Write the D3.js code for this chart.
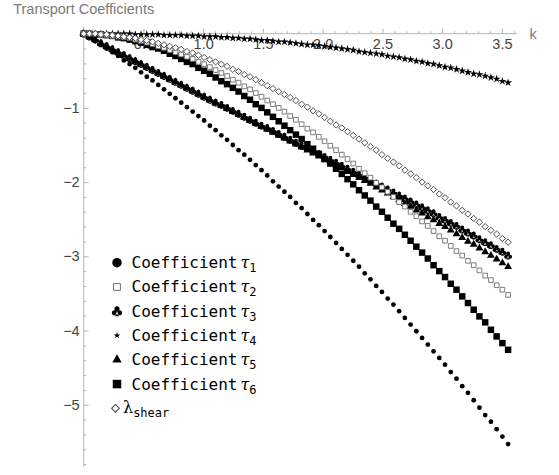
<!DOCTYPE html>
<html><head><meta charset="utf-8">
<script src="https://cdn.jsdelivr.net/npm/d3@7"></script>
<style>body{margin:0;background:#fff}svg{display:block}</style>
</head><body>
<svg id="chart" width="559" height="475"></svg>
<script>
const k = [0,0.048,0.096,0.144,0.192,0.24,0.288,0.336,0.384,0.432,0.48,0.528,0.576,0.624,0.672,0.72,0.768,0.816,0.864,0.912,0.96,1.008,1.056,1.104,1.152,1.2,1.248,1.296,1.344,1.392,1.44,1.488,1.536,1.584,1.632,1.68,1.728,1.776,1.824,1.872,1.92,1.968,2.016,2.064,2.112,2.16,2.208,2.256,2.304,2.352,2.4,2.448,2.496,2.544,2.592,2.64,2.688,2.736,2.784,2.832,2.88,2.928,2.976,3.024,3.072,3.12,3.168,3.216,3.264,3.312,3.36,3.408,3.456,3.504,3.552];
const tau1 = [0,-0.05,-0.10,-0.15,-0.20,-0.25,-0.30,-0.36,-0.41,-0.46,-0.52,-0.58,-0.63,-0.69,-0.75,-0.81,-0.87,-0.93,-0.99,-1.05,-1.11,-1.17,-1.24,-1.30,-1.37,-1.43,-1.50,-1.57,-1.63,-1.70,-1.77,-1.84,-1.91,-1.99,-2.06,-2.13,-2.20,-2.28,-2.35,-2.43,-2.51,-2.58,-2.66,-2.74,-2.82,-2.90,-2.98,-3.06,-3.14,-3.23,-3.31,-3.40,-3.48,-3.57,-3.65,-3.74,-3.83,-3.92,-4.01,-4.10,-4.19,-4.28,-4.37,-4.46,-4.56,-4.65,-4.75,-4.84,-4.94,-5.04,-5.14,-5.23,-5.33,-5.43,-5.53];
const tau2 = [0,0,0,-0.01,-0.02,-0.03,-0.04,-0.05,-0.06,-0.08,-0.10,-0.12,-0.14,-0.17,-0.19,-0.22,-0.25,-0.28,-0.31,-0.34,-0.38,-0.41,-0.45,-0.49,-0.53,-0.57,-0.62,-0.66,-0.71,-0.75,-0.80,-0.85,-0.90,-0.95,-1.00,-1.05,-1.11,-1.16,-1.22,-1.28,-1.33,-1.39,-1.45,-1.51,-1.57,-1.63,-1.69,-1.75,-1.82,-1.88,-1.94,-2.01,-2.07,-2.13,-2.20,-2.27,-2.33,-2.40,-2.46,-2.53,-2.59,-2.66,-2.73,-2.79,-2.86,-2.93,-2.99,-3.06,-3.12,-3.19,-3.26,-3.32,-3.39,-3.45,-3.52];
const tau3 = [0,-0.04,-0.08,-0.13,-0.17,-0.21,-0.25,-0.29,-0.33,-0.37,-0.41,-0.45,-0.49,-0.53,-0.57,-0.61,-0.65,-0.69,-0.73,-0.77,-0.81,-0.85,-0.89,-0.93,-0.96,-1.00,-1.04,-1.08,-1.12,-1.16,-1.20,-1.24,-1.27,-1.31,-1.35,-1.39,-1.43,-1.47,-1.51,-1.54,-1.58,-1.62,-1.66,-1.70,-1.74,-1.78,-1.82,-1.86,-1.90,-1.94,-1.98,-2.02,-2.06,-2.10,-2.14,-2.18,-2.22,-2.26,-2.30,-2.34,-2.38,-2.42,-2.47,-2.51,-2.55,-2.59,-2.64,-2.68,-2.72,-2.77,-2.81,-2.85,-2.90,-2.94,-2.99];
const tau4 = [0,0,0,0,0,0,0,0,0,-0.01,-0.01,-0.01,-0.01,-0.01,-0.02,-0.02,-0.02,-0.02,-0.03,-0.03,-0.03,-0.04,-0.04,-0.04,-0.05,-0.05,-0.06,-0.06,-0.07,-0.07,-0.08,-0.09,-0.09,-0.10,-0.11,-0.11,-0.12,-0.13,-0.14,-0.15,-0.15,-0.16,-0.17,-0.18,-0.19,-0.20,-0.21,-0.22,-0.24,-0.25,-0.26,-0.27,-0.28,-0.30,-0.31,-0.32,-0.34,-0.35,-0.37,-0.38,-0.40,-0.41,-0.43,-0.45,-0.46,-0.48,-0.50,-0.52,-0.54,-0.55,-0.57,-0.59,-0.61,-0.64,-0.66];
const tau5 = [0,-0.04,-0.08,-0.13,-0.17,-0.21,-0.25,-0.29,-0.33,-0.37,-0.41,-0.45,-0.49,-0.53,-0.57,-0.61,-0.65,-0.69,-0.73,-0.77,-0.81,-0.85,-0.89,-0.93,-0.97,-1.01,-1.05,-1.09,-1.13,-1.17,-1.21,-1.25,-1.29,-1.33,-1.37,-1.41,-1.45,-1.49,-1.53,-1.57,-1.61,-1.65,-1.69,-1.73,-1.77,-1.81,-1.86,-1.90,-1.94,-1.98,-2.02,-2.07,-2.11,-2.15,-2.20,-2.24,-2.29,-2.33,-2.38,-2.42,-2.47,-2.51,-2.56,-2.60,-2.65,-2.70,-2.75,-2.80,-2.84,-2.89,-2.94,-2.99,-3.04,-3.09,-3.14];
const tau6 = [0,0,-0.01,-0.01,-0.02,-0.03,-0.05,-0.06,-0.08,-0.10,-0.12,-0.15,-0.18,-0.20,-0.23,-0.27,-0.30,-0.34,-0.38,-0.41,-0.46,-0.50,-0.54,-0.59,-0.64,-0.68,-0.73,-0.78,-0.84,-0.89,-0.95,-1.00,-1.06,-1.12,-1.18,-1.24,-1.30,-1.36,-1.42,-1.49,-1.55,-1.62,-1.69,-1.75,-1.82,-1.89,-1.96,-2.03,-2.11,-2.18,-2.25,-2.33,-2.40,-2.48,-2.56,-2.63,-2.71,-2.79,-2.87,-2.95,-3.03,-3.12,-3.20,-3.28,-3.37,-3.45,-3.54,-3.63,-3.72,-3.81,-3.89,-3.99,-4.08,-4.17,-4.26];
const lambdaShear = [0,0,0,-0.01,-0.01,-0.02,-0.03,-0.04,-0.05,-0.06,-0.08,-0.09,-0.11,-0.13,-0.15,-0.17,-0.19,-0.21,-0.24,-0.26,-0.29,-0.32,-0.35,-0.38,-0.41,-0.44,-0.48,-0.51,-0.55,-0.58,-0.62,-0.66,-0.70,-0.74,-0.78,-0.82,-0.86,-0.90,-0.95,-0.99,-1.04,-1.08,-1.13,-1.18,-1.23,-1.27,-1.32,-1.37,-1.42,-1.47,-1.52,-1.57,-1.63,-1.68,-1.73,-1.78,-1.84,-1.89,-1.94,-2.00,-2.05,-2.10,-2.16,-2.21,-2.27,-2.32,-2.38,-2.43,-2.49,-2.54,-2.60,-2.65,-2.70,-2.76,-2.81];

const xMajorTicks = [0.5,1.0,1.5,2.0,2.5,3.0,3.5];
const yMajorTicks = [-1,-2,-3,-4,-5];
const legendLabels = ["1","2","3","4","5","6"];
const titleText = "Transport Coefficients";
const xLabel = "k";

const svg = d3.select("#chart");
const x = d3.scaleLinear().domain([0, 3.5]).range([83.7, 501.9]);
const y = d3.scaleLinear().domain([0, -5]).range([33.7, 404.7]);

const axisColor = "#b5b5b5";
const tickTextColor = "#444";
const labelColor = "#7a7a7a";
const sansFont = "'Liberation Sans', Arial, sans-serif";

// axis lines
svg.append("line").attr("x1", x(-0.03)).attr("x2", x(3.628)).attr("y1", y(0)).attr("y2", y(0))
  .attr("stroke", axisColor).attr("stroke-width", 1);
svg.append("line").attr("x1", x(0)).attr("x2", x(0)).attr("y1", y(0.095)).attr("y2", y(-5.835))
  .attr("stroke", axisColor).attr("stroke-width", 1);

// x ticks
const xMinor = d3.range(1, 37).map(i => i / 10).filter(v => Math.abs(v * 2 - Math.round(v * 2)) > 1e-6);
const gxm = svg.append("g").attr("transform", `translate(0,${y(0)})`)
  .call(d3.axisBottom(x).tickValues(xMinor).tickSize(-2.5).tickFormat(""));
const gx = svg.append("g").attr("transform", `translate(0,${y(0)})`)
  .call(d3.axisBottom(x).tickValues(xMajorTicks).tickSize(-5).tickPadding(5).tickFormat(d3.format(".1f")));
// y ticks
const yMinor = d3.range(1, 30).map(i => -i / 5).filter(v => Math.abs(v - Math.round(v)) > 1e-6);
const gym = svg.append("g").attr("transform", `translate(${x(0)},0)`)
  .call(d3.axisLeft(y).tickValues(yMinor).tickSize(-2.5).tickFormat(""));
const gy = svg.append("g").attr("transform", `translate(${x(0)},0)`)
  .call(d3.axisLeft(y).tickValues(yMajorTicks).tickSize(-5).tickPadding(4).tickFormat(d3.format("d")));
[gxm, gx, gym, gy].forEach(g => {
  g.select(".domain").remove();
  g.selectAll(".tick line").attr("stroke", axisColor);
  g.selectAll(".tick text").attr("fill", tickTextColor)
    .attr("font-family", sansFont).attr("font-size", 14.5);
});

// axis labels
svg.append("text").attr("x", x(0)).attr("y", 13.5).attr("text-anchor", "middle")
  .attr("font-family", sansFont).attr("font-size", 14.5)
  .attr("fill", labelColor).text(titleText);
svg.append("text").attr("x", 533).attr("y", 38.5).attr("text-anchor", "middle")
  .attr("font-family", sansFont).attr("font-size", 14.5)
  .attr("fill", labelColor).text(xLabel);

// marker shapes
function clubPath(s) {
  const r = 0.27 * s;
  const circ = (cx, cy) => `M${cx - r},${cy}a${r},${r} 0 1,0 ${2 * r},0a${r},${r} 0 1,0 ${-2 * r},0`;
  return circ(0, -0.26 * s) + circ(-0.27 * s, 0.16 * s) + circ(0.27 * s, 0.16 * s) +
    `M0,${-0.05 * s}L${0.2 * s},${0.52 * s}L${-0.2 * s},${0.52 * s}Z`;
}
const sym = {
  circle: s => d3.symbol(d3.symbolCircle, s)(),
  square: s => d3.symbol(d3.symbolSquare, s)(),
  triangle: s => d3.symbol(d3.symbolTriangle, s)(),
  star: s => d3.symbol(d3.symbolStar, s)(),
  club: s => clubPath(s),
  diamond: s => d3.symbol(d3.symbolSquare, s)()
};

const series = [
  {name: "tau1", vals: tau1, shape: "circle", size: 18, fill: "#000", stroke: "none", rot: 0},
  {name: "tau3", vals: tau3, shape: "club", size: 7.5, fill: "#000", stroke: "none", rot: 0},
  {name: "tau4", vals: tau4, shape: "star", size: 20, fill: "#000", stroke: "none", rot: 0},
  {name: "tau5", vals: tau5, shape: "triangle", size: 27, fill: "#000", stroke: "none", rot: 0},
  {name: "tau6", vals: tau6, shape: "square", size: 42, fill: "#000", stroke: "none", rot: 0},
  {name: "tau2", vals: tau2, shape: "square", size: 22, fill: "#fff", stroke: "#6e6e6e", rot: 0},
  {name: "lambda", vals: lambdaShear, shape: "diamond", size: 20, fill: "#fff", stroke: "#444", rot: 45}
];

series.forEach(s => {
  const g = svg.append("g").attr("class", s.name);
  g.selectAll("path").data(k.map((kv, i) => ({k: kv, v: s.vals[i]})))
    .join("path")
    .attr("d", sym[s.shape](s.size))
    .attr("transform", d => `translate(${x(d.k)},${y(d.v)}) rotate(${s.rot})`)
    .attr("fill", s.fill)
    .attr("stroke", s.stroke)
    .attr("stroke-width", s.stroke === "none" ? 0 : 0.9);
});

// legend
const legendRows = [
  {shape: "circle", size: 70, fill: "#000", stroke: "none", rot: 0},
  {shape: "square", size: 46, fill: "#fff", stroke: "#6e6e6e", rot: 0},
  {shape: "club", size: 9.5, fill: "#000", stroke: "none", rot: 0},
  {shape: "star", size: 14, fill: "#000", stroke: "none", rot: 0},
  {shape: "triangle", size: 38, fill: "#000", stroke: "none", rot: 0},
  {shape: "square", size: 72, fill: "#000", stroke: "none", rot: 0},
  {shape: "diamond", size: 30, fill: "#fff", stroke: "#444", rot: 45}
];
const lg = svg.append("g");
const rowY = i => 262.7 + 24.27 * i;
legendRows.forEach((r, i) => {
  const mx = i === 6 ? 115.5 : 117;
  lg.append("path").attr("d", sym[r.shape](r.size))
    .attr("transform", `translate(${mx},${rowY(i)}) rotate(${r.rot})`)
    .attr("fill", r.fill).attr("stroke", r.stroke).attr("stroke-width", r.stroke === "none" ? 0 : 1);
});
const monoFont = "'DejaVu Sans Mono', monospace";
legendLabels.forEach((lab, i) => {
  const t = lg.append("text").attr("x", 131.5).attr("y", rowY(i) + 5.5)
    .attr("font-family", monoFont).attr("font-size", 16).attr("fill", "#000");
  t.append("tspan").text("Coefficient");
  t.append("tspan").attr("dx", 3).attr("font-family", "'DejaVu Serif', serif").attr("font-style", "italic").attr("font-size", 16).text("τ");
  t.append("tspan").attr("dy", 4).attr("font-size", 12).attr("font-style", "normal").text(lab);
});
const tl = lg.append("text").attr("x", 123).attr("y", rowY(6) + 5)
  .attr("font-family", monoFont).attr("font-size", 16).attr("fill", "#000");
tl.append("tspan").attr("font-family", "'DejaVu Serif', serif").text("λ");
tl.append("tspan").attr("dy", 4).attr("font-size", 12).text("shear");
</script>
</body></html>
